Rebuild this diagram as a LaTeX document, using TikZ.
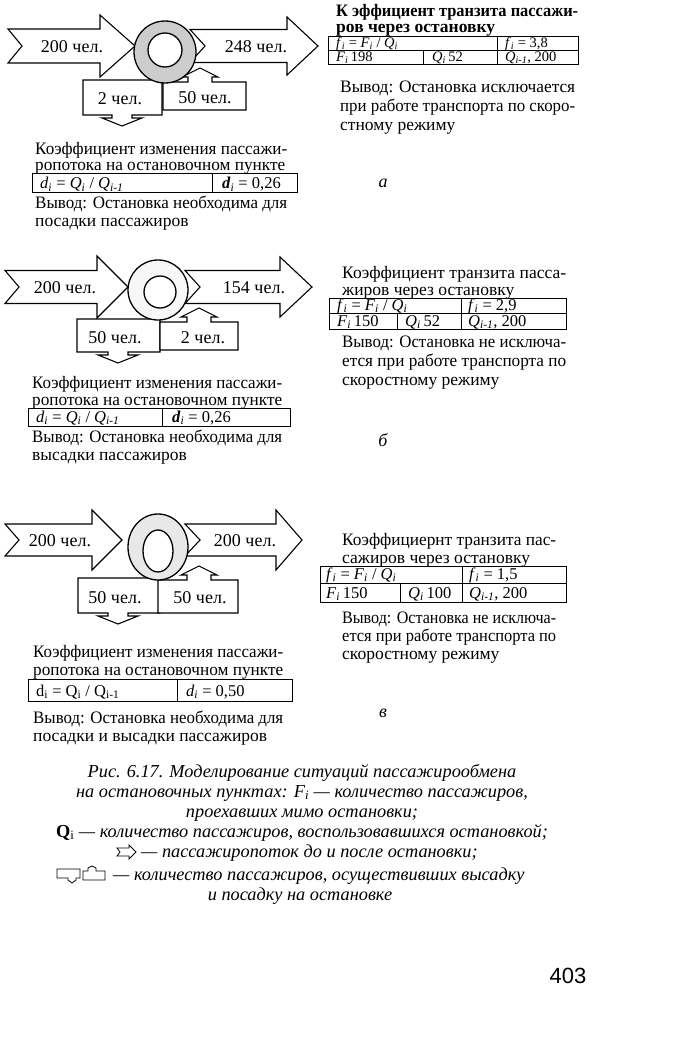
\documentclass[tikz,border=0pt]{standalone}
\usepackage{fontspec}
\usepackage{graphicx}
\setmainfont{Liberation Serif}
\newfontfamily\pnfont{Liberation Sans}
\newlength\jlen
\newcommand\jline[2]{\settowidth\jlen{#2}\ifdim\jlen>#1\relax\resizebox{#1}{\height}{#2}\else\makebox[#1][s]{#2}\fi}
\newcommand\sbs[2]{\textit{#1}\textsubscript{\textit{#2}}}
% right-pointing flow arrow: tail x, notch depth, head start x, tip x, centre y, body half, head half
\newcommand\flowR[7]{\draw[outl] (#1,#5-#6) -- (#3,#5-#6) -- (#3,#5-#7) -- (#4,#5) -- (#3,#5+#7) -- (#3,#5+#6) -- (#1,#5+#6) -- (#1+#2,#5) -- cycle;}
% box with arrow down: x1 x2 y1 y2 arrow-x shaft-half head-half shaft-len head-len
\newcommand\downbox[9]{\draw[outl] (#1,#3) -- (#2,#3) -- (#2,#4) -- (#5+#6,#4) -- (#5+#6,#4+#8) -- (#5+#7,#4+#8) -- (#5,#4+#8+#9) -- (#5-#7,#4+#8) -- (#5-#6,#4+#8) -- (#5-#6,#4) -- (#1,#4) -- cycle;}
% box with arrow up
\newcommand\upbox[9]{\draw[outl] (#1,#3) -- (#5-#6,#3) -- (#5-#6,#3-#8) -- (#5-#7,#3-#8) -- (#5,#3-#8-#9) -- (#5+#7,#3-#8) -- (#5+#6,#3-#8) -- (#5+#6,#3) -- (#2,#3) -- (#2,#4) -- (#1,#4) -- cycle;}
\tikzset{
  outl/.style={draw=black, line width=1.1pt, line join=miter, fill=white},
  ringst/.style={draw=black, line width=1.3pt},
  tline/.style={draw=black, line width=1pt},
  lbl/.style={anchor=base, inner sep=0pt, font=\fontsize{18}{20}\selectfont},
  txt/.style={anchor=base west, inner sep=0pt, font=\fontsize{17.5}{18}\selectfont},
  cell/.style={anchor=base west, inner sep=0pt, font=\fontsize{16.5}{17}\selectfont},
  cellsm/.style={anchor=base west, inner sep=0pt, font=\fontsize{14.5}{15}\selectfont},
  captc/.style={anchor=base, inner sep=0pt, font=\fontsize{18.3}{20}\selectfont\itshape},
  captw/.style={anchor=base west, inner sep=0pt, font=\fontsize{18.3}{20}\selectfont\itshape},
  panel/.style={anchor=base, inner sep=0pt, font=\fontsize{18}{20}\selectfont\itshape},
}
\begin{document}
\begin{tikzpicture}[x=1pt,y=-1pt]
\useasboundingbox[fill=white] (0,0) rectangle (686,1060);

% ================= panel a =================
\flowR{8}{14}{100}{135}{46}{17}{31}
\flowR{190}{15}{287}{318}{46}{16.5}{29}
\downbox{83}{162}{80}{115}{122}{10}{20}{3}{8}
\upbox{163}{246}{82}{110}{200}{12}{18}{5}{9}
\draw[ringst, fill=gray!40] (165,52) ellipse [x radius=31pt, y radius=31pt];
\draw[ringst, fill=white] (165,50) ellipse [x radius=17pt, y radius=17pt];
\node[lbl] (a200) at (72,52) {200 чел.};
\node[lbl] (a248) at (256,52) {248 чел.};
\node[lbl] (a2) at (120,104) {2 чел.};
\node[lbl] (a50) at (205,103) {50 чел.};

\node[txt, font=\fontsize{17.5}{18}\selectfont\bfseries] (ta1) at (336,16) {\jline{242pt}{К эффициент транзита пассажи-}};
\node[txt, font=\fontsize{17.5}{18}\selectfont\bfseries] (ta2) at (336,32) {ров через остановку};
\draw[tline] (328,36) rectangle (578,64);
\draw[tline] (328,50) -- (578,50);
\draw[tline] (497,36) -- (497,64);
\draw[tline] (423,50) -- (423,64);
\node[cellsm] (ca1) at (336,47.5) {\sbs{f}{i} = \sbs{F}{i} / \sbs{Q}{i}};
\node[cellsm] (ca2) at (505,47.5) {\sbs{f}{i} = 3,8};
\node[cellsm] (ca3) at (336,61.5) {\sbs{F}{i}\,198};
\node[cellsm] (ca4) at (432,61.5) {\sbs{Q}{i}\,52};
\node[cellsm] (ca5) at (505,61.5) {\sbs{Q}{i-1}, 200};
\node[txt] (va1) at (340,92) {\jline{235pt}{Вывод: Остановка исключается}};
\node[txt] (va2) at (340,111) {\jline{235pt}{при работе транспорта по скоро-}};
\node[txt] (va3) at (340,130) {стному режиму};

\node[txt] (la1) at (35,154) {\jline{252pt}{Коэффициент изменения пассажи-}};
\node[txt] (la2) at (35,170) {\jline{250pt}{ропотока на остановочном пункте}};
\draw[tline] (32,173) rectangle (297,192);
\draw[tline] (212,173) -- (212,192);
\node[cell] (da1) at (40,188.5) {\sbs{d}{i} = \sbs{Q}{i} / \sbs{Q}{i-1}};
\node[cell] (da2) at (222,188.5) {\textbf{\textit{d}}\textsubscript{\textit{i}} = 0,26};
\node[txt] (la3) at (35,208) {\jline{252pt}{Вывод: Остановка необходима для}};
\node[txt] (la4) at (35,226) {посадки пассажиров};
\node[panel] (pa) at (383,187) {а};

% ================= panel b =================
\flowR{5}{14}{97}{128}{287}{16.5}{31}
\flowR{185}{15}{280}{312}{287}{16.5}{30}
\downbox{77}{160}{319}{352}{118}{10}{20}{3}{8}
\upbox{160}{238}{322}{350}{199}{12}{18}{5}{9}
\draw[ringst, fill=gray!6] (158,290) ellipse [x radius=30pt, y radius=30pt];
\draw[ringst, fill=white] (160,292) ellipse [x radius=16pt, y radius=16pt];
\node[lbl] (b200) at (65,293) {200 чел.};
\node[lbl] (b154) at (254,293) {154 чел.};
\node[lbl] (b50) at (115,343) {50 чел.};
\node[lbl] (b2) at (203,343) {2 чел.};

\node[txt] (tb1) at (342,278) {\jline{224pt}{Коэффициент транзита пасса-}};
\node[txt] (tb2) at (342,295) {жиров через остановку};
\draw[tline] (329,298) rectangle (566,329);
\draw[tline] (329,313) -- (566,313);
\draw[tline] (461,298) -- (461,329);
\draw[tline] (397,313) -- (397,329);
\node[cell] (cb1) at (337,310) {\sbs{f}{i} = \sbs{F}{i} / \sbs{Q}{i}};
\node[cell] (cb2) at (468,310) {\sbs{f}{i} = 2,9};
\node[cell] (cb3) at (337,326) {\sbs{F}{i}\,150};
\node[cell] (cb4) at (405,326) {\sbs{Q}{i}\,52};
\node[cell] (cb5) at (468,326) {\sbs{Q}{i-1}, 200};
\node[txt] (vb1) at (342,347) {\jline{224pt}{Вывод: Остановка не исключа-}};
\node[txt] (vb2) at (342,366) {\jline{224pt}{ется при работе транспорта по}};
\node[txt] (vb3) at (342,385) {скоростному режиму};

\node[txt] (lb1) at (32,388) {\jline{250pt}{Коэффициент изменения пассажи-}};
\node[txt] (lb2) at (32,405) {\jline{250pt}{ропотока на остановочном пункте}};
\draw[tline] (28,408) rectangle (290,426);
\draw[tline] (162,408) -- (162,426);
\node[cell] (db1) at (36,422) {\sbs{d}{i} = \sbs{Q}{i} / \sbs{Q}{i-1}};
\node[cell] (db2) at (172,422) {\textbf{\textit{d}}\textsubscript{\textit{i}} = 0,26};
\node[txt] (lb3) at (32,442) {\jline{250pt}{Вывод: Остановка необходима для}};
\node[txt] (lb4) at (32,460) {высадки пассажиров};
\node[panel] (pb) at (383,446) {б};

% ================= panel v =================
\flowR{5}{14}{92}{122}{540}{16}{30}
\flowR{185}{15}{276}{302}{540}{16}{30}
\downbox{78}{160}{578}{613}{118}{10}{20}{3}{8}
\upbox{158}{238}{580}{613}{199}{12}{18}{5}{9}
\draw[ringst, fill=gray!18] (158,547) ellipse [x radius=30pt, y radius=33pt];
\draw[ringst, fill=white] (158,551) ellipse [x radius=15pt, y radius=21pt];
\node[lbl] (c200a) at (60,546) {200 чел.};
\node[lbl] (c200b) at (245,546) {200 чел.};
\node[lbl] (c50a) at (115,603) {50 чел.};
\node[lbl] (c50b) at (200,603) {50 чел.};

\node[txt] (tc1) at (342,545) {\jline{214pt}{Коэффициернт транзита пас-}};
\node[txt] (tc2) at (342,563) {сажиров через остановку};
\draw[tline] (320,566) rectangle (566,602);
\draw[tline] (320,583) -- (566,583);
\draw[tline] (462,566) -- (462,602);
\draw[tline] (400,583) -- (400,602);
\node[cell] (cc1) at (326,579) {\sbs{f}{i} = \sbs{F}{i} / \sbs{Q}{i}};
\node[cell] (cc2) at (469,579) {\sbs{f}{i} = 1,5};
\node[cell] (cc3) at (326,598) {\sbs{F}{i}\,150};
\node[cell] (cc4) at (408,598) {\sbs{Q}{i}\,100};
\node[cell] (cc5) at (469,598) {\sbs{Q}{i-1}, 200};
\node[txt] (vc1) at (342,623) {\jline{214pt}{Вывод: Остановка не исключа-}};
\node[txt] (vc2) at (342,641) {\jline{214pt}{ется при работе транспорта по}};
\node[txt] (vc3) at (342,659) {скоростному режиму};

\node[txt] (lc1) at (33,657) {\jline{250pt}{Коэффициент изменения пассажи-}};
\node[txt] (lc2) at (33,675) {\jline{250pt}{ропотока на остановочном пункте}};
\draw[tline] (28,679) rectangle (292,701);
\draw[tline] (177,679) -- (177,701);
\node[cell] (dc1) at (36,696) {d\textsubscript{i} = Q\textsubscript{i} / Q\textsubscript{i-1}};
\node[cell] (dc2) at (186,696) {\sbs{d}{i} = 0,50};
\node[txt] (lc3) at (33,723) {\jline{250pt}{Вывод: Остановка необходима для}};
\node[txt] (lc4) at (33,741) {посадки и высадки пассажиров};
\node[panel] (pc) at (383,717) {в};

% ================= caption =================
\node[captc] (k1) at (302,777) {Рис. 6.17. Моделирование ситуаций пассажирообмена};
\node[captc] (k2) at (302,797) {на остановочных пунктах: \textit{F}\textsubscript{\textit{i}} — количество пассажиров,};
\node[captc] (k3) at (302,817) {проехавших мимо остановки;};
\node[captc] (k4) at (302,837) {\textup{\textbf{Q}\textsubscript{i}} — количество пассажиров, воспользовавшихся остановкой;};
\node[captw] (k5) at (141,857) {— пассажиропоток до и после остановки;};
\node[captw] (k6) at (113,880) {— количество пассажиров, осуществивших высадку};
\node[captc] (k7) at (300,900) {и посадку на остановке};
% legend icons
\draw[draw=black, line width=0.8pt] (117,848) -- (129,848) -- (129,845) -- (136,852) -- (129,859) -- (129,856) -- (117,856) -- (120,852) -- cycle;
\draw[draw=black, line width=0.8pt] (57,869) -- (80,869) -- (80,878) -- (76,878) -- (76,880) -- (72,883) -- (68,880) -- (68,878) -- (57,878) -- cycle;
\draw[draw=black, line width=0.8pt] (83,871) -- (88,871) -- (88,868) -- (92,866) -- (96,868) -- (96,871) -- (105,871) -- (105,880) -- (83,880) -- cycle;

\node[anchor=base, inner sep=0pt, font=\pnfont\fontsize{22}{24}\selectfont] (pg) at (568,983) {403};
\end{tikzpicture}
\end{document}
